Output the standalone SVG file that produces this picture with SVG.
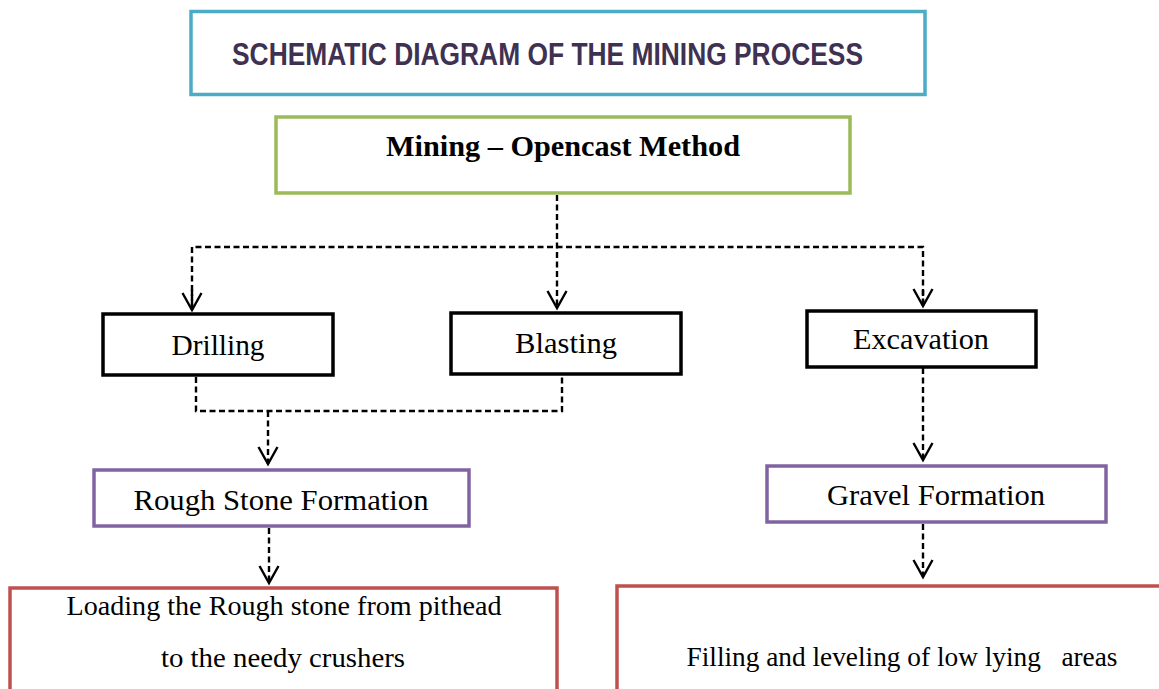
<svg xmlns="http://www.w3.org/2000/svg" width="1159" height="689" viewBox="0 0 1159 689">
<style>
.box{fill:#fff;}
.title{stroke:#4BACC6;stroke-width:3.5;}
.green{stroke:#9BBB59;stroke-width:3.5;}
.black{stroke:#000;stroke-width:3.5;}
.purple{stroke:#8064A2;stroke-width:3.5;}
.red{stroke:#C0504D;stroke-width:3.5;}
.lbl{font-family:"Liberation Serif","Times New Roman",serif;font-size:30px;fill:#000;text-anchor:middle;}
.sm{font-size:28px;}
.conn{fill:none;stroke:#000;stroke-width:2.4;stroke-dasharray:6 3.5;}
</style>
<defs>
<marker id="arr" markerUnits="userSpaceOnUse" markerWidth="22" markerHeight="24" viewBox="-19 -11 22 22" refX="0" refY="0" orient="auto">
<path d="M-17,-9.5 L0,0 L-17,9.5" fill="none" stroke="#000" stroke-width="2.4" stroke-dasharray="none"/>
</marker>
</defs>
<rect width="1159" height="689" fill="#fff"/>
<g id="title">
<rect class="box title" x="191" y="11.5" width="734" height="83"/>
<text x="232" y="65" font-family="'Liberation Sans',Arial,sans-serif" font-weight="bold" font-size="31" fill="#3F3151" textLength="631" lengthAdjust="spacingAndGlyphs">SCHEMATIC DIAGRAM OF THE MINING PROCESS</text>
</g>
<g id="mining">
<rect class="box green" x="276" y="117" width="574" height="76"/>
<text class="lbl" x="563" y="156" font-weight="bold" textLength="354" lengthAdjust="spacingAndGlyphs">Mining – Opencast Method</text>
</g>
<g id="drilling">
<rect class="box black" x="103" y="314" width="230" height="61"/>
<text class="lbl" x="218" y="355" textLength="93" lengthAdjust="spacingAndGlyphs">Drilling</text>
</g>
<g id="blasting">
<rect class="box black" x="451" y="313" width="230" height="61"/>
<text class="lbl" x="566" y="353" textLength="102" lengthAdjust="spacingAndGlyphs">Blasting</text>
</g>
<g id="excavation">
<rect class="box black" x="807" y="311" width="229" height="56"/>
<text class="lbl" x="921" y="349" textLength="136" lengthAdjust="spacingAndGlyphs">Excavation</text>
</g>
<g id="rough">
<rect class="box purple" x="94" y="470" width="375" height="56"/>
<text class="lbl" x="281" y="510" textLength="295" lengthAdjust="spacingAndGlyphs">Rough Stone Formation</text>
</g>
<g id="gravel">
<rect class="box purple" x="767" y="466" width="339" height="56"/>
<text class="lbl" x="936" y="505" textLength="218" lengthAdjust="spacingAndGlyphs">Gravel Formation</text>
</g>
<g id="loading">
<rect class="box red" x="10" y="588" width="547" height="120"/>
<text class="lbl sm" x="284" y="615" textLength="435" lengthAdjust="spacingAndGlyphs">Loading the Rough stone from pithead</text>
<text class="lbl sm" x="283" y="667" textLength="244" lengthAdjust="spacingAndGlyphs">to the needy crushers</text>
</g>
<g id="filling">
<rect class="box red" x="617" y="586" width="560" height="120"/>
<text class="lbl sm" x="902" y="666" xml:space="preserve" textLength="431" lengthAdjust="spacingAndGlyphs">Filling and leveling of low lying   areas</text>
</g>
<g id="connectors">
<path class="conn" d="M557,195 V308" marker-end="url(#arr)"/>
<path class="conn" d="M192,310 V247 H923 V306"/>
<path class="conn" d="M192,290 V310" marker-end="url(#arr)"/>
<path class="conn" d="M923,290 V306" marker-end="url(#arr)"/>
<path class="conn" d="M196,377 V411 H562 V377"/>
<path class="conn" d="M268,411 V464" marker-end="url(#arr)"/>
<path class="conn" d="M923,368 V460" marker-end="url(#arr)"/>
<path class="conn" d="M269,528 V583" marker-end="url(#arr)"/>
<path class="conn" d="M923,524 V577" marker-end="url(#arr)"/>
</g>
</svg>
